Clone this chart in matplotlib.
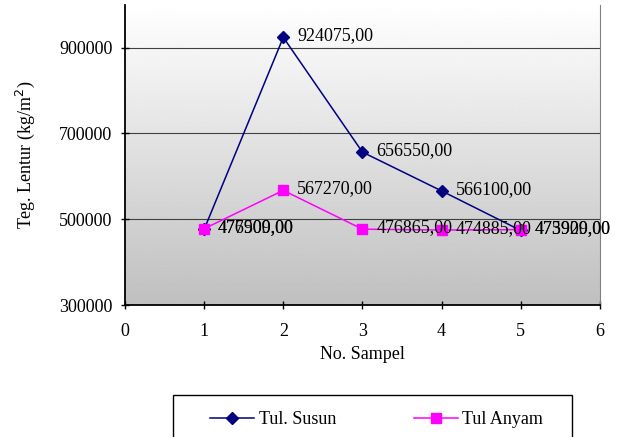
import numpy as np
import matplotlib.pyplot as plt
from matplotlib.patches import Rectangle

plt.rcParams['font.family'] = ['Liberation Serif', 'DejaVu Serif']

# data
sampel = [1, 2, 3, 4, 5]
tul_susun = [476500, 924075, 656550, 566100, 473909]
tul_anyam = [477909, 567270, 476865, 474885, 475920]
yticks = [300000, 500000, 700000, 900000]

fig = plt.figure(figsize=(6.19, 4.37), dpi=100)
ax = fig.add_axes([0.202, 0.302, 0.767, 0.687])

# gradient background white -> grey
grad = np.linspace(1.0, 0.75, 256).reshape(-1, 1)
ax.imshow(grad, extent=[0, 1, 0, 1], transform=ax.transAxes, cmap='gray',
          vmin=0, vmax=1, aspect='auto', zorder=0)

for y in yticks[1:]:
    ax.axhline(y, color='#404040', lw=0.8, zorder=1)

ax.plot(sampel, tul_susun, color='#000080', marker='D', ms=6, lw=1.1,
        label='Tul. Susun', zorder=3)
ax.plot(sampel, tul_anyam, color='#ff00ff', marker='s', ms=7, lw=1.1,
        label='Tul Anyam', zorder=3)

def fmt(v):
    return f'{v:.2f}'.replace('.', ',')

for x, y in zip(sampel, tul_susun):
    ax.annotate(fmt(y), (x, y), xytext=(10, 1), textcoords='offset points',
                va='center', fontsize=13, color='black', zorder=4)
for x, y in zip(sampel, tul_anyam):
    ax.annotate(fmt(y), (x, y), xytext=(10, 1), textcoords='offset points',
                va='center', fontsize=13, color='black', zorder=4)

ax.set_xlim(0, 6)
ax.set_ylim(300000, 1000000)
ax.set_xticks(range(0, 7))
ax.set_yticks(yticks)
ax.tick_params(labelsize=13, direction='inout', length=6, width=1)
ax.tick_params(axis='x', pad=10)
ax.tick_params(axis='y', pad=6)
ax.set_xlabel('No. Sampel', fontsize=13, labelpad=4)
ax.set_ylabel('Teg. Lentur (kg/m$^2$)', fontsize=13, labelpad=16)

ax.spines['top'].set_visible(False)
ax.spines['right'].set_color('#808080')
ax.spines['left'].set_linewidth(1.3)
ax.spines['bottom'].set_linewidth(1.3)

# legend box drawn separately, runs off the bottom edge
fig.patches.append(Rectangle((173 / 619, -0.05), 399 / 619, 42 / 437 + 0.05,
                             transform=fig.transFigure, fill=False,
                             ec='black', lw=1))
fig.legend(loc='center left', bbox_to_anchor=(210 / 619, 1 - 420 / 437),
           ncol=2, fontsize=13, frameon=False, borderpad=0,
           borderaxespad=0, handlelength=2.44, handletextpad=0.25,
           columnspacing=4.3)

fig.savefig('out.png', dpi=100)
